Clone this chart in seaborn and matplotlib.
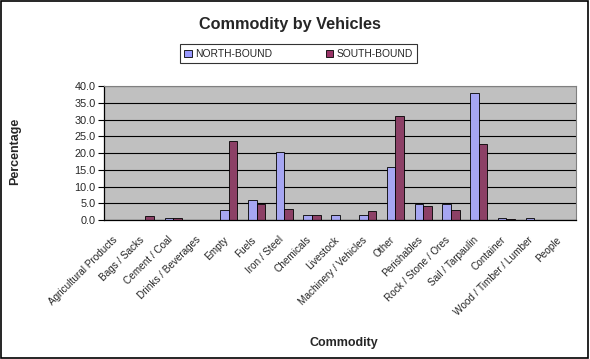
import matplotlib.pyplot as plt
import matplotlib.patches as mpatches
import matplotlib.transforms as mtransforms
import numpy as np
import pandas as pd
import seaborn as sns

# Data
COMMODITIES = [
    "Agricultural Products", "Bags / Sacks", "Cement / Coal", "Drinks / Beverages",
    "Empty", "Fuels", "Iron / Steel", "Chemicals", "Livestock",
    "Machinery / Vehicles", "Other", "Perishables", "Rock / Stone / Ores",
    "Sail / Tarpaulin", "Container", "Wood / Timber / Lumber", "People",
]
NORTH_BOUND = [0.0, 0.0, 0.6, 0.0, 2.9, 6.0, 20.2, 1.4, 1.5,
               1.4, 15.8, 4.7, 4.7, 38.0, 0.6, 0.6, 0.0]
SOUTH_BOUND = [0.0, 1.2, 0.6, 0.0, 23.5, 4.8, 3.3, 1.4, 0.0,
               2.6, 31.0, 4.2, 2.9, 22.8, 0.2, 0.0, 0.0]
SERIES = ["NORTH-BOUND", "SOUTH-BOUND"]
Y_TICKS = [0, 5, 10, 15, 20, 25, 30, 35, 40]

# Colors
NORTH_COLOR = "#9999FF"
SOUTH_COLOR = "#993366"
PLOT_BG = "#C0C0C0"

df = pd.DataFrame({
    "Commodity": COMMODITIES * 2,
    "Percentage": NORTH_BOUND + SOUTH_BOUND,
    "Direction": [SERIES[0]] * len(COMMODITIES) + [SERIES[1]] * len(COMMODITIES),
})

sns.set_style("white")
plt.rcParams["font.family"] = ["Liberation Sans", "DejaVu Sans"]

fig = plt.figure(figsize=(5.9, 3.59), dpi=100)
ax = fig.add_axes([0.176, 0.387, 0.8, 0.373])

sns.barplot(data=df, x="Commodity", y="Percentage", hue="Direction",
            palette=[NORTH_COLOR, SOUTH_COLOR], width=0.62, gap=0,
            edgecolor="black", linewidth=0.6, ax=ax, legend=False)

ax.set_facecolor(PLOT_BG)
ax.set_ylim(0, 40)
ax.set_xlim(-0.5, len(COMMODITIES) - 0.5)
ax.set_yticks(Y_TICKS)
ax.set_yticklabels([f"{v:.1f}" for v in Y_TICKS], fontsize=7.8)
ax.yaxis.grid(True, color="black", linewidth=0.8)
ax.set_axisbelow(True)

# category labels at centers, tick marks at boundaries
ax.set_xticks(range(len(COMMODITIES)))
ax.set_xticklabels(COMMODITIES, rotation=45, ha="right", rotation_mode="anchor", fontsize=7.2)
ax.tick_params(axis="x", length=0, pad=4)
shift = mtransforms.ScaledTranslation(-6 / 100, -9 / 100, fig.dpi_scale_trans)
for lbl in ax.get_xticklabels():
    lbl.set_transform(lbl.get_transform() + shift)
ax.set_xticks(np.arange(-0.5, len(COMMODITIES)), minor=True)
ax.tick_params(axis="x", which="minor", length=4, width=0.8, color="black", direction="out")
ax.tick_params(axis="y", length=4, width=0.8, color="black", direction="out", left=True, pad=2)

for side in ["top", "right"]:
    ax.spines[side].set_color("#808080")
for side in ["left", "bottom"]:
    ax.spines[side].set_color("black")
    ax.spines[side].set_linewidth(0.9)

ax.set_xlabel("")
ax.set_ylabel("")
fig.text(0.026, 0.577, "Percentage", rotation=90, fontsize=9, fontweight="bold",
         ha="center", va="center")
fig.text(0.582, 0.045, "Commodity", fontsize=9, fontweight="bold", ha="center", va="center")
fig.text(0.492, 0.933, "Commodity by Vehicles", fontsize=11.7, fontweight="bold",
         ha="center", va="center")

handles = [mpatches.Patch(facecolor=NORTH_COLOR, edgecolor="black", linewidth=0.6, label=SERIES[0]),
           mpatches.Patch(facecolor=SOUTH_COLOR, edgecolor="black", linewidth=0.6, label=SERIES[1])]
leg = fig.legend(handles=handles, ncol=2, loc="center", bbox_to_anchor=(0.506, 0.850),
                 fontsize=7.4, frameon=True, fancybox=False, handlelength=0.7, handleheight=0.7,
                 handletextpad=0.3, columnspacing=5.3, borderpad=0.45, borderaxespad=0,
                 edgecolor="black")
leg.get_frame().set_linewidth(0.8)

# outer border of the chart
fig.patches.append(mpatches.Rectangle((0.002, 0.003), 0.995, 0.994, transform=fig.transFigure,
                                      fill=False, edgecolor="black", linewidth=1.2))

fig.savefig("out.png", dpi=100)
